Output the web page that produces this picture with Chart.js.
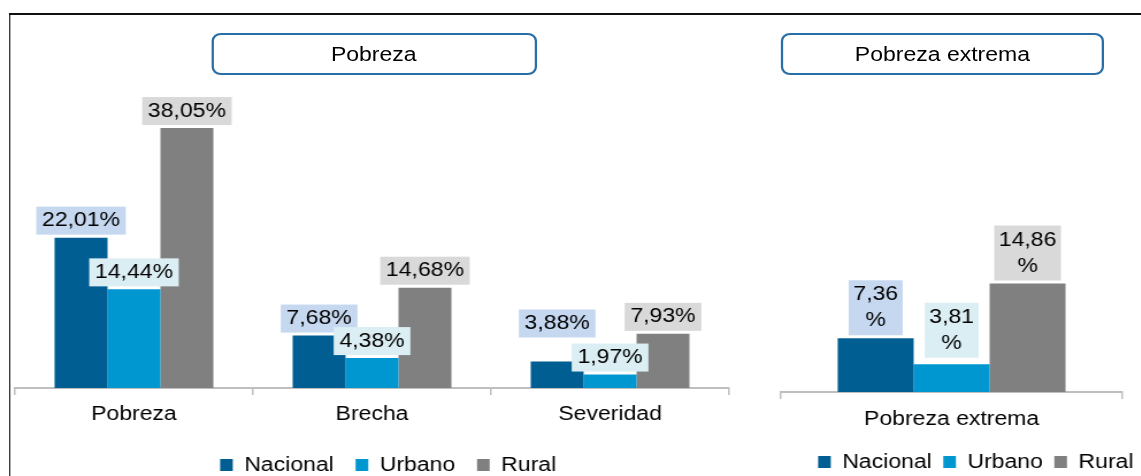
<!DOCTYPE html>
<html>
<head>
<meta charset="utf-8">
<script src="https://cdn.jsdelivr.net/npm/chart.js@4.4.1/dist/chart.umd.min.js"></script>
<style>
  html, body { margin: 0; padding: 0; background: #fff; overflow: hidden; width: 1141px; height: 476px; }
  #wrap { position: absolute; left: 0; top: 0; width: 992px; height: 490px; transform: scaleX(1.15); transform-origin: 0 0; }
  .frame { position: absolute; left: 7.8px; top: 13px; width: 1000px; height: 500px; border-left: 1.8px solid #111; border-top: 2px solid #111; }
  .title { position: absolute; top: 33px; height: 38px; box-sizing: content-box; border: 2.5px solid #2a6ea6; border-radius: 8px;
           font: 20px "Liberation Sans", Arial, sans-serif; color: #000; text-align: center; line-height: 38px; }
  .box { position: absolute; top: 0; height: 490px; }
</style>
</head>
<body>
<div id="wrap">
  <div class="frame"></div>
  <div class="title" style="left:183.5px; width:279px;">Pobreza</div>
  <div class="title" style="left:679px; width:277px;">Pobreza extrema</div>
  <div class="box" style="left:0; width:650px;"><canvas id="chart-pobreza"></canvas></div>
  <div class="box" style="left:660px; width:332px;"><canvas id="chart-extrema"></canvas></div>
</div>
<script>
// datos
const seriesNames = ['Nacional', 'Urbano', 'Rural'];
const categories = ['Pobreza', 'Brecha', 'Severidad'];
const nacional = [22.01, 7.68, 3.88];
const urbano = [14.44, 4.38, 1.97];
const rural = [38.05, 14.68, 7.93];

const extremaCategories = ['Pobreza extrema'];
const extremaNacional = [7.36];
const extremaUrbano = [3.81];
const extremaRural = [14.86];

const barColors = ['#005e93', '#0096d0', '#808080'];
const labelColors = ['#c6d8f0', '#dbeef4', '#d9d9d9'];
const fontFamily = '"Liberation Sans", Arial, sans-serif';

Chart.defaults.font.family = fontFamily;
Chart.defaults.font.size = 20;
Chart.defaults.color = '#000';

function fmt(v) {
    return v.toFixed(2).replace('.', ',');
}

// etiquetas con fondo encima de cada barra
const valueLabels = {
    id: 'valueLabels',
    afterDatasetsDraw(chart, args, opts) {
        const ctx = chart.ctx;
        ctx.save();
        ctx.font = '20px ' + fontFamily;
        ctx.textAlign = 'center';
        ctx.textBaseline = 'middle';
        chart.data.datasets.forEach((ds, i) => {
            chart.getDatasetMeta(i).data.forEach((bar, j) => {
                const lines = opts.wrap ? [fmt(ds.data[j]), '%'] : [fmt(ds.data[j]) + '%'];
                const w = Math.max(...lines.map(l => ctx.measureText(l).width)) + 2 * opts.padX;
                const h = lines.length * opts.lineH + 2 * opts.padY;
                const lift = (opts.lift && opts.lift[i + '-' + j]) || 0;
                const top = bar.y - opts.gap - lift - h;
                ctx.fillStyle = labelColors[i];
                ctx.fillRect(bar.x - w / 2, top, w, h);
                ctx.fillStyle = '#000';
                lines.forEach((l, k) => ctx.fillText(l, bar.x, top + opts.padY + opts.lineH * (k + 0.5)));
            });
        });
        ctx.restore();
    }
};

// mover la leyenda horizontalmente
const legendShift = {
    id: 'legendShift',
    afterLayout(chart, args, opts) {
        if (chart.legend) {
            chart.legend.left += opts.dx;
            chart.legend.right += opts.dx;
        }
    }
};

function createChart(canvas, labels, data, cfg) {
    new Chart(canvas, {
        type: 'bar',
        data: {
            labels: labels,
            datasets: data.map((d, i) => ({
                label: seriesNames[i],
                data: d,
                backgroundColor: barColors[i],
                borderWidth: 0,
                categoryPercentage: 0.667,
                barPercentage: 1
            }))
        },
        options: {
            responsive: true,
            maintainAspectRatio: false,
            animation: false,
            layout: { padding: cfg.padding },
            scales: {
                x: {
                    grid: { display: true, drawOnChartArea: false, drawTicks: true, tickLength: 7, color: '#bfbfbf', lineWidth: 1.5, offset: true },
                    border: { display: true, color: '#bfbfbf', width: 2 },
                    ticks: { color: '#000', padding: cfg.tickPad, font: { size: 20 } },
                    afterFit: s => { s.height = cfg.axisHeight; }
                },
                y: { display: false, min: 0, max: cfg.yMax }
            },
            plugins: {
                legend: {
                    position: 'bottom',
                    labels: { boxWidth: 11, boxHeight: 12, padding: cfg.legendPad, color: '#000', font: { size: 20 } }
                },
                tooltip: { enabled: false },
                valueLabels: cfg.labels,
                legendShift: { dx: cfg.legendDx }
            }
        },
        plugins: [valueLabels, legendShift]
    });
}

createChart(document.getElementById('chart-pobreza'), categories, [nacional, urbano, rural], {
    padding: { top: 80.6, left: 13, right: 16, bottom: 5 },
    yMax: 45,
    tickPad: 7,
    axisHeight: 48,
    legendPad: 19,
    legendDx: 14,
    labels: { wrap: false, padX: 5, padY: 2, lineH: 24, gap: 3, lift: { '0-2': 21 } }
});

createChart(document.getElementById('chart-extrema'), extremaCategories, [extremaNacional, extremaUrbano, extremaRural], {
    padding: { top: 246, left: 19, right: 16, bottom: 8 },
    yMax: 20,
    tickPad: 8,
    axisHeight: 50,
    legendPad: 10,
    legendDx: 21,
    labels: { wrap: true, padX: 4, padY: 1.5, lineH: 26, gap: 3, lift: { '1-0': 3.5 } }
});
</script>
</body>
</html>
